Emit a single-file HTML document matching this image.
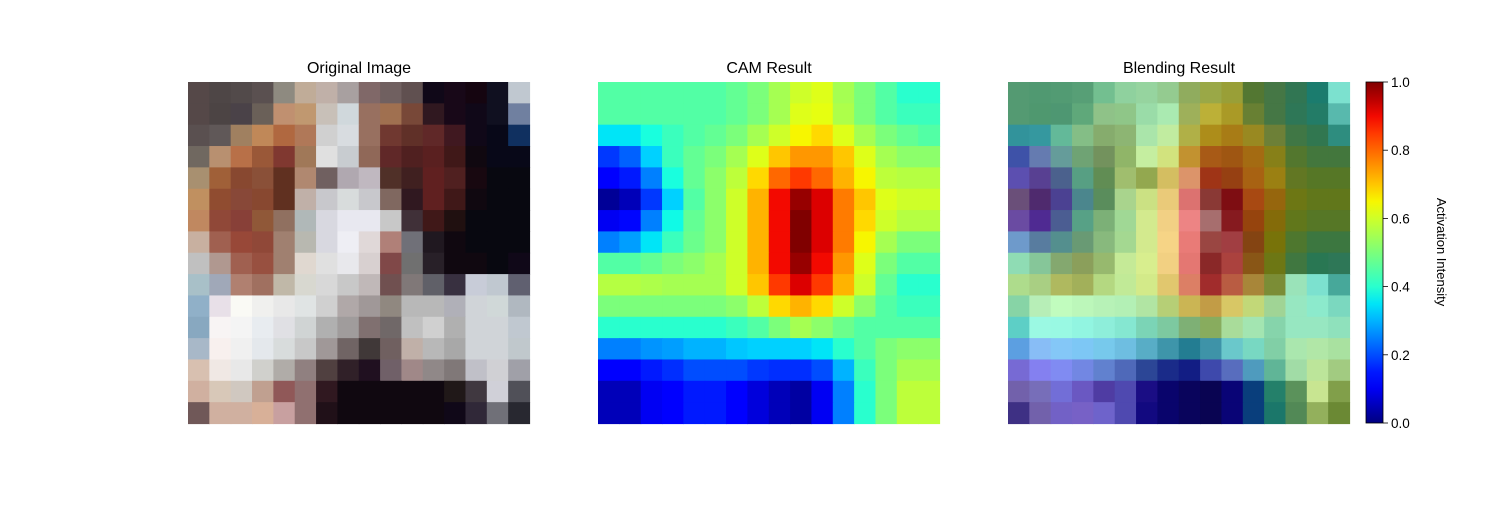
<!DOCTYPE html>
<html><head><meta charset="utf-8">
<style>
body{margin:0;background:#fff;}
svg text{font-family:"Liberation Sans","DejaVu Sans",sans-serif;fill:#000;}
</style></head>
<body>
<svg id="fig" width="1500" height="500" viewBox="0 0 1500 500" xmlns="http://www.w3.org/2000/svg">
<rect width="1500" height="500" fill="#fff"/>
<g id="orig"></g>
<g id="cam"></g>
<g id="blend"></g>
<text x="359" y="73" font-size="16" text-anchor="middle">Original Image</text>
<text x="769" y="73" font-size="16" text-anchor="middle">CAM Result</text>
<text x="1179" y="73" font-size="16" text-anchor="middle">Blending Result</text>
<defs><linearGradient id="jetg" x1="0" y1="1" x2="0" y2="0"></linearGradient></defs>
<rect x="1366" y="82" width="17" height="341" fill="url(#jetg)" stroke="#000" stroke-width="0.8"/>
<g id="cbticks"></g>
<text transform="translate(1437,252) rotate(90)" font-size="13" text-anchor="middle">Activation Intensity</text>
</svg>
<script>
const camValues = [
[0.45,0.45,0.45,0.45,0.45,0.45,0.47,0.5,0.55,0.6,0.62,0.55,0.5,0.45,0.4,0.4],
[0.45,0.45,0.45,0.45,0.45,0.45,0.47,0.5,0.55,0.62,0.63,0.56,0.5,0.45,0.42,0.42],
[0.35,0.35,0.38,0.42,0.45,0.47,0.5,0.55,0.6,0.65,0.68,0.62,0.55,0.5,0.47,0.45],
[0.18,0.22,0.33,0.42,0.47,0.5,0.55,0.62,0.7,0.75,0.75,0.7,0.62,0.55,0.52,0.52],
[0.12,0.15,0.25,0.38,0.47,0.52,0.58,0.68,0.8,0.85,0.8,0.72,0.65,0.58,0.57,0.57],
[0.02,0.05,0.18,0.33,0.45,0.52,0.6,0.72,0.9,0.98,0.92,0.78,0.7,0.62,0.6,0.6],
[0.1,0.13,0.25,0.37,0.47,0.52,0.6,0.72,0.9,1.0,0.92,0.78,0.68,0.6,0.57,0.57],
[0.25,0.28,0.35,0.42,0.48,0.52,0.6,0.72,0.9,1.0,0.92,0.78,0.65,0.55,0.5,0.5],
[0.45,0.45,0.47,0.5,0.52,0.55,0.6,0.72,0.9,0.98,0.9,0.75,0.62,0.5,0.45,0.45],
[0.57,0.57,0.56,0.55,0.55,0.55,0.6,0.7,0.85,0.92,0.85,0.72,0.6,0.47,0.4,0.4],
[0.5,0.5,0.5,0.5,0.5,0.5,0.52,0.58,0.68,0.72,0.68,0.6,0.52,0.45,0.42,0.42],
[0.4,0.4,0.4,0.4,0.4,0.4,0.42,0.45,0.5,0.55,0.52,0.48,0.45,0.45,0.45,0.45],
[0.25,0.25,0.27,0.28,0.3,0.3,0.32,0.33,0.33,0.33,0.35,0.4,0.45,0.5,0.52,0.52],
[0.12,0.12,0.15,0.17,0.2,0.2,0.2,0.18,0.17,0.17,0.2,0.3,0.42,0.5,0.55,0.55],
[0.05,0.05,0.1,0.12,0.15,0.15,0.12,0.08,0.05,0.03,0.1,0.25,0.4,0.5,0.58,0.58],
[0.05,0.05,0.1,0.12,0.15,0.15,0.12,0.08,0.05,0.03,0.1,0.25,0.4,0.5,0.58,0.58]
];
const origPixels = [
"554848 4e4646 524a4a 5a5050 8e8a80 c0ac98 c0b0a8 a8a0a0 806868 706060 605050 100818 180818 150510 101020 c0c8d0",
"554848 4c4444 4a4248 6a6058 c09070 c09870 c8c0b8 d0d8dc 987060 a07050 784838 301820 180818 100818 101020 7080a0",
"5a5050 605858 a08060 c08858 b06840 b07858 d0d0d0 d8dce0 987060 703830 603028 602828 401820 100818 080818 103060",
"706860 b89070 b87048 9a5838 803830 a07858 e0e0e0 c8ccd0 906858 602828 502020 5a2020 401818 100810 080818 080818",
"a89070 a06038 884830 8a5038 603020 b08870 706060 b0a8b0 c0b8c0 503028 402020 602020 502020 180810 080810 080810",
"c09060 904c30 884838 884830 603020 c0b0a8 c8c8cc d8dcdc c8c8cc 806860 301820 602020 401818 100810 080810 080810",
"c08860 904838 884038 905838 907060 b0b8b8 d8d8e0 e8e8f0 e8e8f0 c8c8c8 403038 401818 201010 080810 080810 080810",
"c8b0a0 a06050 984838 904838 a08070 b8b8b0 d8d8e0 eeeef4 e0d8d8 b08078 707078 201820 100810 080810 080810 080810",
"c0c0c0 b09890 a06050 985040 a08070 e0d8d0 e0e0e0 e8e8ec d8d0d0 804848 707070 282028 100810 100810 080810 100818",
"a8c0c8 a0a8b8 b08070 a07060 c0b8a8 d8d8d0 d8d8d8 c8c8c8 c0b8b8 705050 807878 606068 383040 c8ccd8 c0c8d0 606070",
"90b0c8 e8e0e8 fafaf5 f0f0ee e8e8e8 e0e4e4 d0d0d0 b0a8a8 a09898 908880 b8b8b8 b8b8b8 b0b0b8 d0d4d8 d0d8d8 b0b8c0",
"88a8c0 f8f4f4 f4f4f4 e8ecf0 e0e0e4 d0d4d4 b0b0b0 a09c9c 807070 706868 c0c0c0 d0d0d0 b0b0b0 d0d4d8 d0d4d8 c0c8d0",
"a8b8c8 f8f0ee f0f0f0 e4e8ec d8dcdc c8c8c8 a09898 706464 403838 706060 c0b0a8 b8b8b8 a8a8a8 d0d4d8 d0d4d8 c0c8cc",
"d8c0b0 f0e8e4 e8e8e8 d0d0cc b0aca8 908080 504040 302028 201020 706068 a08888 908888 807878 c0c0c8 d0d0d4 a0a0a8",
"d0b0a0 d8c8b8 d0c8c0 c0a090 905858 907070 301820 100810 100810 100810 100810 100810 201818 403840 d0d0d8 505058",
"705858 d0b0a0 d0b0a0 d8b098 c8a0a0 907070 201018 100810 100810 100810 100810 100810 100818 302838 707078 282830"
];
const cbTicks = [0.0,0.2,0.4,0.6,0.8,1.0];
const cbTickLabels = ["0.0","0.2","0.4","0.6","0.8","1.0"];
const blendAlpha = 0.45;

function interp(pts,v){for(let i=1;i<pts.length;i++){if(v<=pts[i][0]){const a=pts[i-1],b=pts[i];return a[1]+(b[1]-a[1])*(v-a[0])/(b[0]-a[0]);}}return pts[pts.length-1][1];}
function jet(v){v=Math.max(0,Math.min(1,v));
 const r=interp([[0,0],[0.35,0],[0.66,1],[0.89,1],[1,0.5]],v);
 const g=interp([[0,0],[0.125,0],[0.375,1],[0.64,1],[0.91,0],[1,0]],v);
 const b=interp([[0,0.5],[0.11,1],[0.34,1],[0.65,0],[1,0]],v);
 return [r*255,g*255,b*255];}
function hex(h){return [parseInt(h.slice(0,2),16),parseInt(h.slice(2,4),16),parseInt(h.slice(4,6),16)];}
function rgb(c){return 'rgb('+c.map(x=>Math.round(x)).join(',')+')';}
const NS='http://www.w3.org/2000/svg';
const imgSize=341.5, nCells=16, cell=imgSize/nCells, topY=82;
function xScale(x0,c){return x0+c*cell;}
function yScale(r){return topY+r*cell;}
function cellRect(g,x,y,fill){const e=document.createElementNS(NS,'rect');
 e.setAttribute('x',x);e.setAttribute('y',y);e.setAttribute('width',cell+0.6);e.setAttribute('height',cell+0.6);e.setAttribute('fill',fill);
 
 
 g.appendChild(e);}
const go=document.getElementById('orig'),gc=document.getElementById('cam'),gb=document.getElementById('blend');
for(let r=0;r<nCells;r++){const row=origPixels[r].split(' ');
 for(let c=0;c<nCells;c++){const o=hex(row[c]);const j=jet(camValues[r][c]);
  cellRect(go,xScale(188,c),yScale(r),rgb(o));
  cellRect(gc,xScale(598,c),yScale(r),rgb(j));
  cellRect(gb,xScale(1008,c),yScale(r),rgb(o.map((v,i)=>v*(1-blendAlpha)+j[i]*blendAlpha)));
 }}
const grad=document.getElementById('jetg');
for(let i=0;i<=20;i++){const s=document.createElementNS(NS,'stop');s.setAttribute('offset',i/20);s.setAttribute('stop-color',rgb(jet(i/20)));grad.appendChild(s);}
const gt=document.getElementById('cbticks');
cbTicks.forEach((t,i)=>{const y=423-t*341;
 const l=document.createElementNS(NS,'line');l.setAttribute('x1',1383);l.setAttribute('x2',1388);l.setAttribute('y1',y);l.setAttribute('y2',y);l.setAttribute('stroke','#000');l.setAttribute('stroke-width','0.8');
 
 
 gt.appendChild(l);
 const tx=document.createElementNS(NS,'text');tx.setAttribute('x',1391);tx.setAttribute('y',y+5);tx.setAttribute('font-size','13.5');tx.textContent=cbTickLabels[i];
 
 
 gt.appendChild(tx);});
</script>
</body></html>
